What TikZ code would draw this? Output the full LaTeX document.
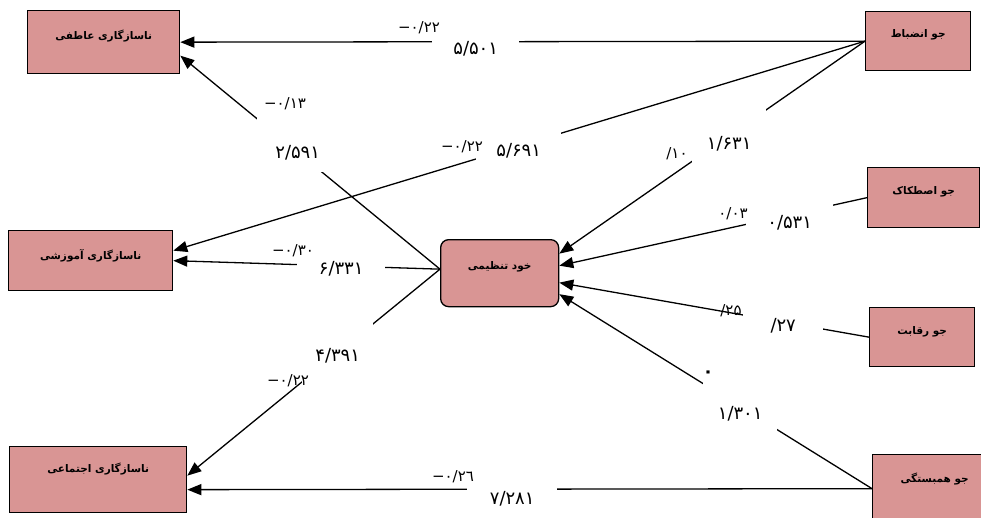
\documentclass[tikz,border=0pt]{standalone}
\usepackage{fontspec}
\newfontfamily\arabicfont[Script=Arabic]{DejaVu Sans}
\TeXXeTstate=1
\usetikzlibrary{arrows.meta}
\definecolor{rosefill}{HTML}{D99594}

\begin{document}
\begin{tikzpicture}[x=1pt,y=-1pt,
  factor/.style={draw, fill=rosefill, line width=1.3pt, inner sep=0pt,
    anchor=north west, font=\arabicfont\bfseries\fontsize{10.5}{12}\selectfont},
  link/.style={line width=1.3pt, -{Triangle[length=14pt,width=11pt]}},
  tval/.style={fill=white, inner sep=0pt, anchor=north west,
    font=\arabicfont\fontsize{18}{20}\selectfont},
  coef/.style={inner sep=0pt, font=\arabicfont\fontsize{15}{17}\selectfont}]

\useasboundingbox (0,0) rectangle (981,517);

% outcome variables (left column)
\node[factor, minimum width=152pt, text height=29pt, text depth=34pt] (aff) at (27,10)
  {\beginR ناسازگاری عاطفی\endR};
\node[factor, minimum width=164pt, text height=29pt, text depth=31pt] (edu) at (8,230)
  {\beginR ناسازگاری آموزشی\endR};
\node[factor, minimum width=177pt, text height=26pt, text depth=40pt] (soc) at (9,446)
  {\beginR ناسازگاری اجتماعی\endR};

% mediator
\node[factor, rounded corners=8pt, minimum width=118pt, text height=30pt, text depth=37pt]
  (selfreg) at (440,239) {\beginR خود تنظیمی\endR};

% classroom climate variables (right column)
\node[factor, minimum width=105pt, text height=26pt, text depth=33pt] (disc) at (865,11)
  {\beginR جو انضباط\endR};
\node[factor, minimum width=112pt, text height=27pt, text depth=33pt] (fric) at (867,167)
  {\beginR جو اصطکاک\endR};
\node[factor, minimum width=105pt, text height=27pt, text depth=32pt] (comp) at (869,307)
  {\beginR جو رقابت\endR};
\node[factor, minimum width=124pt, text height=28pt, text depth=40pt] (coh) at (872,454)
  {\beginR جو همبستگی\endR};

% paths
\draw[link] (disc.west) -- (aff.east);
\draw[link] (disc.west) -- ([yshift=10pt]edu.east);
\draw[link] (disc.west) -- ([yshift=19.5pt]selfreg.east);
\draw[link] (fric.west) -- ([yshift=7.5pt]selfreg.east);
\draw[link] (comp.west) -- ([yshift=-9.5pt]selfreg.east);
\draw[link] (coh.west) -- ([yshift=-21pt]selfreg.east);
\draw[link] (coh.west) -- ([yshift=-10pt]soc.east);
\draw[link] ([yshift=4pt]selfreg.west) -- ([yshift=-13.5pt]aff.east);
\draw[link] ([yshift=4pt]selfreg.west) -- (edu.east);
\draw[link] ([yshift=4pt]selfreg.west) -- ([yshift=4pt]soc.east);

% t-values, set on white so that they break the paths
\node[tval, minimum width=87pt, text height=20pt, text depth=4pt]  (t1)  at (432,34)  {۵/۵۰۱};
\node[tval, minimum width=85pt, text height=26pt, text depth=5pt]  (t2)  at (476,130) {۵/۶۹۱};
\node[tval, minimum width=74pt, text height=42pt, text depth=14pt] (t3)  at (692,107) {۱/۶۳۱};
\node[tval, minimum width=87pt, text height=28pt, text depth=4pt]  (t4)  at (746,200) {۰/۵۳۱};
\node[tval, minimum width=80pt, text height=23pt, text depth=5pt]  (t5)  at (743,308) {/\kern0pt ۲۷};
\node[tval, minimum width=74pt, text height=40pt, text depth=14pt] (t6)  at (703,379) {۱/۳۰۱};
\node[tval, minimum width=90pt, text height=21pt, text depth=3pt]  (t7)  at (467,483) {۷/۲۸۱};
\node[tval, minimum width=81pt, text height=43pt, text depth=14pt] (t8)  at (257,115) {۲/۵۹۱};
\node[tval, minimum width=88pt, text height=18pt, text depth=6pt]  (t9)  at (297,256) {۶/۳۳۱};
\node[tval, minimum width=71pt, text height=41pt, text depth=27pt] (t10) at (302,320) {۴/۳۹۱};

% path coefficients
\node[coef] (c1)  at (419,28)  {−\kern0pt ۰/۲۲};
\node[coef] (c2)  at (462,147) {−\kern0pt ۰/۲۲};
\node[coef] (c3)  at (677,154) {/\kern0pt ۱۰};
\node[coef] (c4)  at (733,214) {۰/۰۳};
\node[coef] (c5)  at (731,311) {/\kern0pt ۲۵};
\node[coef, font=\arabicfont\bfseries\fontsize{18}{20}\selectfont] (c6) at (708,374) {۰};
\node[coef] (c7)  at (453,477) {−\kern0pt ۰/۲٦};
\node[coef] (c8)  at (285,104) {−\kern0pt ۰/۱۳};
\node[coef] (c9)  at (293,251) {−\kern0pt ۰/۳۰};
\node[coef] (c10) at (288,381) {−\kern0pt ۰/۲۲};
\end{tikzpicture}
\end{document}
